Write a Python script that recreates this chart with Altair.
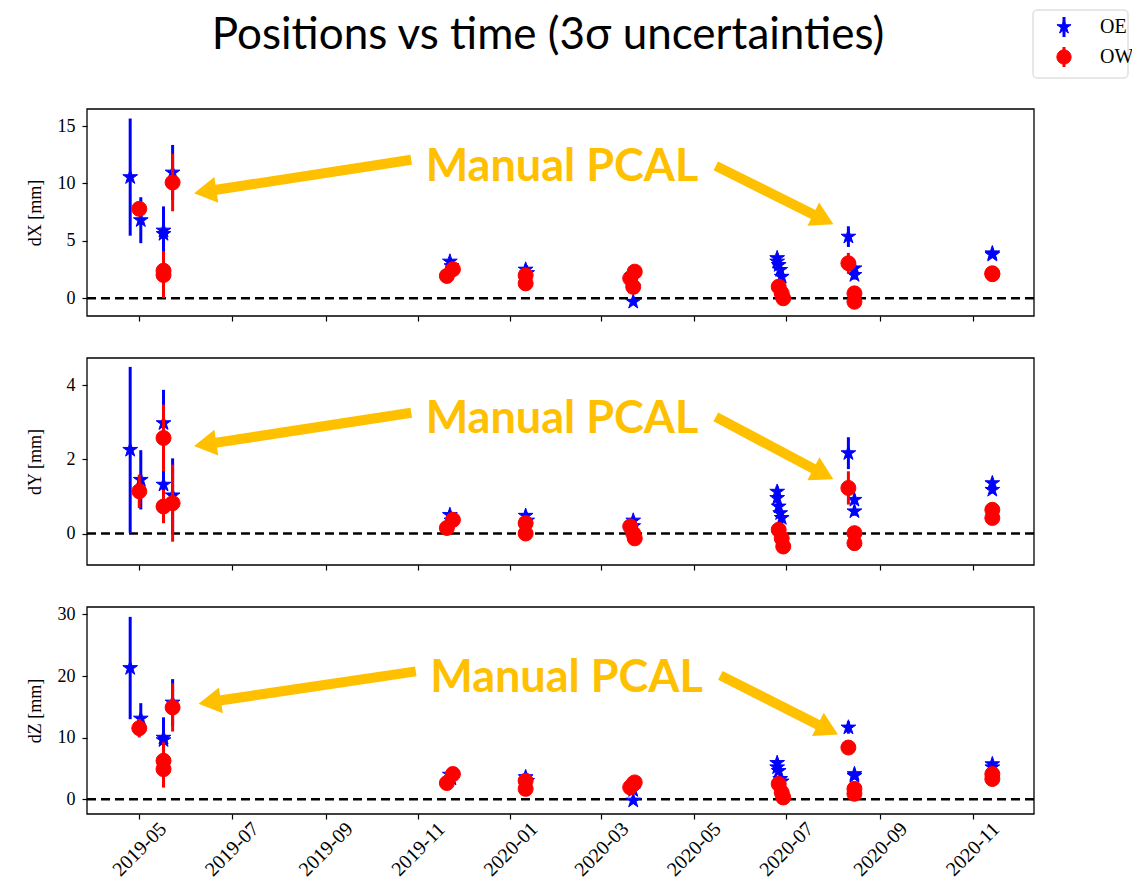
import altair as alt
import pandas as pd

# ---------------- data ----------------
STATIONS = ["OE", "OW"]
COLORS = ["#0000ff", "#ff0000"]
# five-pointed star (matplotlib "*") as an SVG path in the unit box, and a circle
STAR = ("M0,-1L0.225,-0.309L0.951,-0.309L0.363,0.118L0.588,0.809L0,0.382"
        "L-0.588,0.809L-0.363,0.118L-0.951,-0.309L-0.225,-0.309Z")
SHAPES = [STAR, "circle"]

oe_date = ["2019-04-25", "2019-05-02", "2019-05-17", "2019-05-17", "2019-05-23",
           "2019-11-22", "2019-11-23", "2020-01-11", "2020-01-12", "2020-03-22", "2020-03-22",
           "2020-06-25", "2020-06-25", "2020-06-26", "2020-06-27", "2020-06-28",
           "2020-08-11", "2020-08-15", "2020-08-15", "2020-11-14", "2020-11-14"]
oe_dx = [10.55, 6.8, 5.9, 5.6, 10.95, 3.2, 2.8, 2.5, 2.2, -0.3, 1.0,
         3.5, 3.2, 2.9, 2.47, 1.88, 5.37, 2.61, 2.03, 3.92, 3.8]
oe_dx_err = [5.1, 2.0, 2.1, 1.0, 2.4, 0.3, 0.3, 0.3, 0.3, 0.3, 0.3,
             0.4, 0.4, 0.4, 0.4, 0.4, 0.9, 0.4, 0.4, 0.3, 0.3]
oe_dy = [2.26, 1.45, 2.98, 1.32, 1.03, 0.5, 0.35, 0.48, 0.35, 0.35, 0.2,
         1.13, 0.96, 0.73, 0.55, 0.42, 2.17, 0.91, 0.6, 1.36, 1.18]
oe_dy_err = [2.24, 0.8, 0.9, 0.45, 1.0, 0.1, 0.1, 0.1, 0.1, 0.1, 0.1,
             0.15, 0.15, 0.15, 0.15, 0.15, 0.43, 0.12, 0.12, 0.1, 0.1]
oe_dz = [21.3, 13.1, 10.0, 9.6, 15.7, 4.0, 3.4, 3.6, 3.0, -0.2, 1.5,
         5.9, 5.2, 4.6, 3.3, 2.9, 11.65, 4.1, 3.8, 5.7, 5.2]
oe_dz_err = [8.3, 2.5, 3.3, 1.5, 3.8, 0.5, 0.5, 0.5, 0.5, 0.5, 0.5,
             0.6, 0.6, 0.6, 0.6, 0.6, 1.0, 0.6, 0.6, 0.5, 0.5]

ow_date = ["2019-05-01", "2019-05-17", "2019-05-17", "2019-05-23",
           "2019-11-20", "2019-11-24", "2020-01-11", "2020-01-11",
           "2020-03-20", "2020-03-22", "2020-03-23",
           "2020-06-26", "2020-06-28", "2020-06-29",
           "2020-08-11", "2020-08-15", "2020-08-15", "2020-11-14", "2020-11-14"]
ow_dx = [7.79, 2.4, 2.03, 10.08, 1.95, 2.53, 2.0, 1.3, 1.74, 1.0, 2.32,
         1.01, 0.43, 0.0, 3.05, 0.43, -0.3, 2.18, 2.1]
ow_dx_err = [0.5, 1.7, 2.0, 2.5, 0.3, 0.3, 0.3, 0.3, 0.3, 0.3, 0.3,
             0.3, 0.3, 0.3, 0.9, 0.3, 0.3, 0.2, 0.2]
ow_dy = [1.14, 2.58, 0.73, 0.82, 0.15, 0.37, 0.28, 0.0, 0.19, 0.0, -0.13,
         0.1, -0.13, -0.35, 1.23, 0.01, -0.26, 0.64, 0.42]
ow_dy_err = [0.45, 0.9, 0.45, 1.04, 0.1, 0.1, 0.1, 0.1, 0.1, 0.1, 0.1,
             0.1, 0.1, 0.2, 0.45, 0.1, 0.1, 0.08, 0.08]
ow_dz = [11.54, 6.25, 4.9, 14.9, 2.64, 4.1, 3.0, 1.7, 1.94, 2.5, 2.75,
         2.5, 1.1, 0.3, 8.4, 1.7, 0.9, 4.1, 3.3]
ow_dz_err = [1.5, 3.0, 3.0, 3.9, 0.4, 0.4, 0.4, 0.4, 0.4, 0.4, 0.4,
             0.4, 0.4, 0.4, 1.0, 0.4, 0.4, 0.3, 0.3]

x_tick_months = ["2019-05", "2019-07", "2019-09", "2019-11", "2020-01",
                 "2020-03", "2020-05", "2020-07", "2020-09", "2020-11"]
x_domain = ["2019-03-27 12:00", "2020-12-11 12:00"]

panel_comp = ["dX", "dY", "dZ"]
panel_title = ["dX [mm]", "dY [mm]", "dZ [mm]"]
panel_domain = [[-1.54, 16.48], [-0.85, 4.74], [-2.38, 31.2]]
panel_ticks = [[0, 5, 10, 15], [0, 2, 4], [0, 10, 20, 30]]

# "Manual PCAL" annotation per panel (data units)
ann_text_date = ["2020-02-04", "2020-02-04", "2020-02-07"]
ann_text_val = [11.45, 3.1, 19.7]
arr_tail_date = [["2019-10-27", "2020-05-15"], ["2019-10-27", "2020-05-15"], ["2019-10-30", "2020-05-18"]]
arr_tail_val = [[12.06, 11.53], [3.26, 3.15], [20.76, 20.11]]
arr_end_date = [["2019-06-15", "2020-07-23"], ["2019-06-15", "2020-07-23"], ["2019-06-18", "2020-07-26"]]
arr_end_val = [[9.34, 7.0], [2.42, 1.65], [15.86, 11.54]]
arr_head_date = [["2019-06-13", "2020-07-25"], ["2019-06-13", "2020-07-25"], ["2019-06-16", "2020-07-28"]]
arr_head_val = [[9.29, 6.89], [2.41, 1.61], [15.78, 11.33]]
arr_angle = [[261.2, 116.4], [261.3, 117.8], [261.5, 116.7]]


def ms(s):
    """date text -> epoch milliseconds (UTC)"""
    return int(pd.Timestamp(s, tz="UTC").value // 10**6)


# ---------------- tables ----------------
rows = []
for st, dates, comps in [
    ("OE", oe_date, [("dX", oe_dx, oe_dx_err), ("dY", oe_dy, oe_dy_err), ("dZ", oe_dz, oe_dz_err)]),
    ("OW", ow_date, [("dX", ow_dx, ow_dx_err), ("dY", ow_dy, ow_dy_err), ("dZ", ow_dz, ow_dz_err)]),
]:
    for comp, vals, errs in comps:
        for d, v, e in zip(dates, vals, errs):
            rows.append({"station": st, "date": ms(d), "comp": comp,
                         "val": v, "lo": v - e, "hi": v + e})
df = pd.DataFrame(rows)

# ---------------- layout (pixels) ----------------
W, H, GAP = 947, 207, 42
TOPS = [0, H + GAP, 2 * (H + GAP)]
HT = 3 * H + 2 * GAP
ORANGE = "#FFC000"
SERIF = "Liberation Serif"
one = pd.DataFrame({"a": [0]})

xdom = [ms(s) for s in x_domain]
xvals = [ms(m + "-01") for m in x_tick_months]
xsc = alt.Scale(type="utc", domain=xdom)

MARKS = [("OE", COLORS[0], SHAPES[0], 240), ("OW", COLORS[1], SHAPES[1], 225)]

layers = []
for k in range(3):
    top = TOPS[k]
    d = df[df.comp == panel_comp[k]]
    ysc = alt.Scale(domain=panel_domain[k], range=[top + H, top], nice=False, zero=False)
    xax = alt.Axis(values=xvals, labelExpr="utcFormat(datum.value, '%Y-%m')",
                   labels=(k == 2), title=None, labelFontSize=20,
                   orient="bottom", offset=top + H - HT, labelAngle=315, labelAlign="center",
                   labelBaseline="middle", labelPadding=30, labelFlush=False,
                   labelOverlap=False, grid=False, domain=False)
    yax = alt.Axis(values=panel_ticks[k], title=panel_title[k], orient="left", titleX=-52,
                   titleAngle=270, titleAlign="center", titleBaseline="middle",
                   grid=False, domain=False, labelPadding=7)

    # frame of the panel
    layers.append(alt.Chart(one).mark_rect(fillOpacity=0, stroke="black", strokeWidth=1.3).encode(
        x=alt.value(0), x2=alt.value(W), y=alt.value(top), y2=alt.value(top + H)))
    # zero line
    layers.append(alt.Chart(pd.DataFrame({"z": [0.0]})).mark_rule(
        color="black", strokeDash=[9, 5], strokeWidth=2.5).encode(
        y=alt.Y("z:Q", scale=ysc, axis=yax)))
    # data: error bars + markers (OE first, OW on top)
    first = True
    for st, c, shape, size in MARKS:
        ds = d[d.station == st]
        layers.append(alt.Chart(ds).mark_rule(strokeWidth=3, color=c).encode(
            x=alt.X("date:T", scale=xsc, axis=xax if first else None),
            y=alt.Y("lo:Q", scale=ysc, axis=None), y2="hi:Q"))
        first = False
        layers.append(alt.Chart(ds).mark_point(filled=True, opacity=1, size=size, shape=shape,
                                               fill=c, stroke=c, strokeWidth=1).encode(
            x=alt.X("date:T", scale=xsc, axis=None),
            y=alt.Y("val:Q", scale=ysc, axis=None)))
    # annotation text
    txt = pd.DataFrame({"date": [ms(ann_text_date[k])], "val": [ann_text_val[k]],
                        "t": ["Manual PCAL"]})
    layers.append(alt.Chart(txt).mark_text(font="Lato", fontWeight="bold", fontSize=45,
                                           color=ORANGE, align="center", baseline="middle").encode(
        x=alt.X("date:T", scale=xsc, axis=None), y=alt.Y("val:Q", scale=ysc, axis=None),
        text="t:N"))
    # arrows
    arr = pd.DataFrame({
        "x": [ms(t + " 12:00") for t in arr_tail_date[k]], "y": arr_tail_val[k],
        "x2": [ms(t + " 12:00") for t in arr_end_date[k]], "y2": arr_end_val[k],
        "hx": [ms(t + " 12:00") for t in arr_head_date[k]], "hy": arr_head_val[k]})
    layers.append(alt.Chart(arr).mark_rule(color=ORANGE, strokeWidth=10).encode(
        x=alt.X("x:T", scale=xsc, axis=None), y=alt.Y("y:Q", scale=ysc, axis=None),
        x2="x2:T", y2="y2:Q"))
    for j in range(2):
        layers.append(alt.Chart(arr.iloc[[j]]).mark_point(
            shape="triangle-up", filled=True, opacity=1, color=ORANGE, size=676,
            angle=arr_angle[k][j]).encode(
            x=alt.X("hx:T", scale=xsc, axis=None), y=alt.Y("hy:Q", scale=ysc, axis=None)))

# legend (top-right, outside the panels)
layers.append(alt.Chart(one).mark_rect(fill="white", stroke="#d0d0d0", strokeWidth=1,
                                       cornerRadius=4).encode(
    x=alt.value(W - 1), x2=alt.value(W + 94), y=alt.value(-99), y2=alt.value(-31)))
for j, (st, c, shape, size) in enumerate(MARKS):
    yy = -82 + 30 * j
    layers.append(alt.Chart(one).mark_rule(color=c, strokeWidth=3).encode(
        x=alt.value(W + 30), y=alt.value(yy - 10), y2=alt.value(yy + 10)))
    layers.append(alt.Chart(one).mark_point(filled=True, opacity=1, size=size - 20, shape=shape,
                                            fill=c, stroke=c, strokeWidth=1).encode(
        x=alt.value(W + 30), y=alt.value(yy)))
    layers.append(alt.Chart(pd.DataFrame({"t": [st]})).mark_text(
        font=SERIF, fontSize=20, align="left", baseline="middle", color="black").encode(
        x=alt.value(W + 66), y=alt.value(yy), text="t:N"))

# title
layers.append(alt.Chart(pd.DataFrame({"t": ["Positions vs time (3σ uncertainties)"]})).mark_text(
    font="Lato", fontSize=44, align="center", baseline="alphabetic", color="black").encode(
    x=alt.value(461), y=alt.value(-60), text="t:N"))

chart = alt.layer(*layers).resolve_scale(x="independent", y="independent").properties(
    width=W, height=HT,
    autosize=alt.AutoSizeParams(type="none"),
    padding={"left": 79, "top": 101, "right": 98, "bottom": 67},
).configure_view(strokeOpacity=0).configure_axis(
    labelFont=SERIF, labelFontSize=18, titleFont=SERIF, titleFontSize=18,
    titleFontWeight="normal", labelColor="black", titleColor="black",
    tickColor="black", tickSize=5, tickWidth=1.2,
)

chart.save("out.html", embed_options={"renderer": "svg", "actions": False})
